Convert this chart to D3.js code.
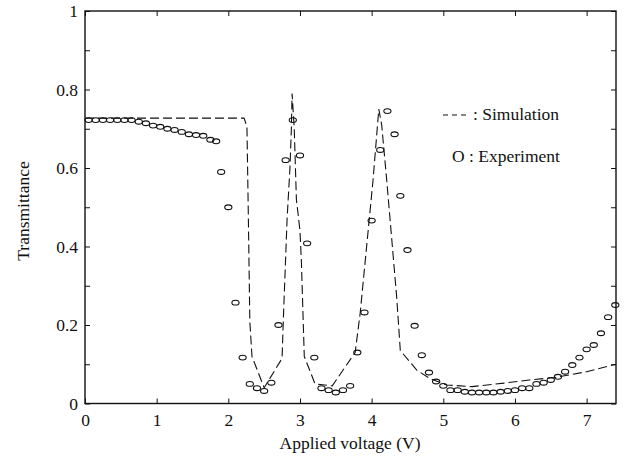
<!DOCTYPE html>
<html>
<head>
<meta charset="utf-8">
<script src="https://cdn.jsdelivr.net/npm/d3@7"></script>
<style>
    body { margin: 0; background: #fff; }
    svg { display: block; }
    text { font-family: 'Liberation Serif', 'Times New Roman', serif; fill: #111; }
    .tick line { stroke: #111; }
</style>
</head>
<body>
<svg id="chart"></svg>
<script>
// Experiment points (applied voltage, transmittance)
const expX = [0.05, 0.15, 0.25, 0.35, 0.45, 0.55, 0.65, 0.75, 0.85, 0.95, 1.05, 1.15, 1.25, 1.35, 1.45, 1.55, 1.65, 1.75, 1.83,
    1.9, 2.0, 2.1, 2.2, 2.3, 2.4, 2.5, 2.6, 2.7, 2.8, 2.9, 3.0, 3.1, 3.2, 3.3, 3.4, 3.5, 3.6, 3.7, 3.8, 3.9, 4.0,
    4.12, 4.22, 4.32,
    4.4, 4.5, 4.6, 4.7, 4.8, 4.9, 5.0, 5.1, 5.2, 5.3, 5.4, 5.5, 5.6, 5.7, 5.8, 5.9, 6.0, 6.1, 6.2, 6.3, 6.4,
    6.5, 6.6, 6.7, 6.8, 6.9, 7.0, 7.1, 7.2, 7.3, 7.4];
const expY = [0.722, 0.722, 0.722, 0.722, 0.722, 0.722, 0.722, 0.718, 0.714, 0.708, 0.705, 0.700, 0.697, 0.692, 0.686, 0.684, 0.682, 0.672, 0.668,
    0.59, 0.50, 0.257, 0.117, 0.05, 0.039, 0.032, 0.053, 0.20, 0.62, 0.722, 0.632, 0.408, 0.117, 0.039, 0.034, 0.028, 0.034, 0.045, 0.13, 0.232, 0.466,
    0.646, 0.745, 0.686,
    0.529, 0.391, 0.198, 0.123, 0.079, 0.056, 0.045, 0.034, 0.034, 0.030, 0.028, 0.028, 0.028, 0.028, 0.030, 0.032, 0.034, 0.039, 0.039, 0.050, 0.053,
    0.060, 0.068, 0.081, 0.098, 0.117, 0.138, 0.149, 0.179, 0.220, 0.251];

// Simulation curve
const simX = [0, 2.22, 2.26, 2.28, 2.30, 2.33, 2.50, 2.75, 2.77, 2.82, 2.86, 2.88, 2.89, 2.92, 2.95, 3.0, 3.02, 3.06, 3.21, 3.45,
    3.77, 3.84, 3.93, 4.02, 4.10, 4.14, 4.21, 4.28, 4.35, 4.40, 4.63, 4.82, 5.05, 5.4, 5.85, 6.2, 6.55, 7.0, 7.41];
const simY = [0.727, 0.727, 0.705, 0.47, 0.21, 0.12, 0.04, 0.115, 0.225, 0.47, 0.60, 0.70, 0.79, 0.70, 0.52, 0.44, 0.36, 0.12, 0.05, 0.045,
    0.13, 0.23, 0.40, 0.57, 0.75, 0.71, 0.57, 0.42, 0.27, 0.135, 0.085, 0.063, 0.047, 0.043, 0.052, 0.06, 0.066, 0.081, 0.10];

// Axis ticks
const xTicks = [0, 1, 2, 3, 4, 5, 6, 7];
const yTicks = [0, 0.1, 0.2, 0.3, 0.4, 0.5, 0.6, 0.7, 0.8, 0.9, 1];
const yLabels = [0, 0.2, 0.4, 0.6, 0.8, 1];

window.addEventListener('load', () => {
    const W = 626, H = 463;
    const margin = { top: 11, right: 10, bottom: 59.5, left: 85 };
    const width = W - margin.left - margin.right;
    const height = H - margin.top - margin.bottom;

    const svg = d3.select('#chart')
        .attr('width', W)
        .attr('height', H);

    const g = svg.append('g')
        .attr('transform', `translate(${margin.left},${margin.top})`);

    // Scales
    const x = d3.scaleLinear().domain([0, 7.41]).range([0, width]);
    const y = d3.scaleLinear().domain([0, 1]).range([height, 0]);

    // Axes, ticks pointing inward
    g.append('g')
        .attr('transform', `translate(0,${height})`)
        .call(d3.axisBottom(x).tickValues(xTicks).tickSize(-5).tickSizeOuter(0).tickPadding(10).tickFormat(d3.format('d')))
        .call(a => a.select('.domain').remove())
        .selectAll('text').style('font-size', '17.5px');

    g.append('g')
        .call(d3.axisTop(x).tickValues(xTicks).tickSize(-5).tickSizeOuter(0).tickFormat(''))
        .call(a => a.select('.domain').remove());

    g.append('g')
        .call(d3.axisLeft(y).tickValues(yTicks).tickSize(-5).tickSizeOuter(0).tickPadding(7)
            .tickFormat(d => yLabels.some(v => Math.abs(v - d) < 1e-9) ? d3.format('~g')(d) : ''))
        .call(a => a.select('.domain').remove())
        .selectAll('text').style('font-size', '17.5px');

    g.append('g')
        .attr('transform', `translate(${width},0)`)
        .call(d3.axisRight(y).tickValues(yTicks).tickSize(-5).tickSizeOuter(0).tickFormat(''))
        .call(a => a.select('.domain').remove());

    // Frame
    g.append('rect')
        .attr('width', width)
        .attr('height', height)
        .attr('fill', 'none')
        .attr('stroke', '#111')
        .attr('stroke-width', 1.4);

    // Simulation line
    const line = d3.line()
        .x((d, i) => x(simX[i]))
        .y((d, i) => y(simY[i]));

    g.append('path')
        .datum(simX)
        .attr('d', line)
        .attr('fill', 'none')
        .attr('stroke', '#111')
        .attr('stroke-width', 1.1)
        .attr('stroke-dasharray', '9,4');

    // Experiment markers
    g.selectAll('.exp')
        .data(expX)
        .enter().append('ellipse')
        .attr('class', 'exp')
        .attr('cx', d => x(d))
        .attr('cy', (d, i) => y(expY[i]))
        .attr('rx', 3.6)
        .attr('ry', 2.4)
        .attr('fill', 'none')
        .attr('stroke', '#111')
        .attr('stroke-width', 1.1);

    // Axis titles
    svg.append('text')
        .attr('x', 350)
        .attr('y', 449)
        .attr('text-anchor', 'middle')
        .style('font-size', '17.5px')
        .text('Applied voltage (V)');

    svg.append('text')
        .attr('transform', 'rotate(-90)')
        .attr('x', -211)
        .attr('y', 29)
        .attr('text-anchor', 'middle')
        .style('font-size', '17.5px')
        .text('Transmittance');

    // Legend
    svg.append('line')
        .attr('x1', 443).attr('x2', 470)
        .attr('y1', 115).attr('y2', 115)
        .attr('stroke', '#111')
        .attr('stroke-width', 1.1)
        .attr('stroke-dasharray', '5,4');

    svg.append('text')
        .attr('x', 473)
        .attr('y', 120)
        .style('font-size', '17.5px')
        .text(': Simulation');

    svg.append('text')
        .attr('x', 452)
        .attr('y', 162)
        .style('font-size', '17.5px')
        .text('O : Experiment');
});
</script>
</body>
</html>
